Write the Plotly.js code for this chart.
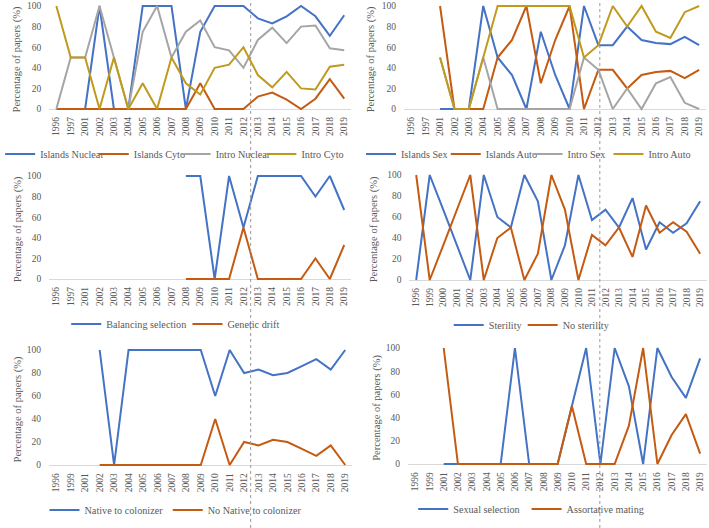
<!DOCTYPE html>
<html><head><meta charset="utf-8">
<script src="https://cdn.plot.ly/plotly-3.0.1.min.js"></script>
<style>html,body{margin:0;padding:0;background:#fff}#chart{width:709px;height:528px}</style>
</head><body><div id="chart"></div>
<script>
// ---------- categories ----------
const yearsA = ['1996','1997','2001','2002','2003','2004','2005','2006','2007','2008','2009','2010','2011','2012','2013','2014','2015','2016','2017','2018','2019'];
const yearsB = ['1996','1999','2000','2001','2002','2003','2004','2005','2006','2007','2008','2009','2010','2011','2012','2013','2014','2015','2016','2017','2018','2019'];
const yearsC = ['1996','1999','2001','2002','2003','2004','2005','2006','2007','2008','2009','2010','2011','2012','2013','2014','2015','2016','2017','2018','2019'];

// ---------- panel 1 ----------
const islandsNuclear = [null,null,0,100,0,0,100,100,100,0,75,100,100,100,88,83,90,100,90,71,91];
const islandsCyto    = [0,0,0,0,0,0,0,0,0,0,25,0,0,0,12,16,9,0,10,29,10];
const introNuclear   = [0,50,50,100,50,0,75,100,50,75,86,60,57,40,67,79,64,80,81,59,57];
const introCyto      = [100,50,50,0,50,0,25,0,50,25,14,40,43,60,33,21,36,20,19,41,43];
// ---------- panel 2 ----------
const islandsSex  = [null,null,0,0,0,100,50,33,0,75,33,0,100,62,62,80,67,64,63,70,62];
const islandsAuto = [null,null,100,0,0,0,50,67,100,25,67,100,0,38,38,20,33,36,37,30,38];
const introSex    = [null,null,50,0,0,50,0,0,0,0,0,0,50,38,0,20,0,25,31,6,0];
const introAuto   = [null,null,50,0,0,50,100,100,100,100,100,100,50,62,100,80,100,75,69,94,100];
// ---------- panel 3 ----------
const balancingSel = [null,null,null,null,null,null,null,null,null,100,100,0,100,50,100,100,100,100,80,100,67];
const geneticDrift = [null,null,null,null,null,null,null,null,null,0,0,0,0,50,0,0,0,0,20,0,33];
// ---------- panel 4 ----------
const sterility   = [0,100,67,33,0,100,60,50,100,75,0,33,100,57,67,50,78,29,55,45,54,75];
const noSterility = [100,0,33,67,100,0,40,50,0,25,100,67,0,43,33,50,22,71,45,55,46,25];
// ---------- panel 5 ----------
const nativeCol   = [null,null,null,100,0,100,100,100,100,100,100,60,100,80,83,78,80,86,92,83,100];
const noNativeCol = [null,null,null,0,0,0,0,0,0,0,0,40,0,20,17,22,20,14,8,17,0];
// ---------- panel 6 ----------
const sexualSel  = [null,null,0,0,0,0,0,100,0,0,0,50,100,0,100,67,0,100,75,57,91];
const assortMate = [null,null,100,0,0,0,0,0,0,0,0,50,0,0,0,33,100,0,25,43,9];

const yTicks = [0,20,40,60,80,100];
const yTitle = 'Percentage of papers (%)';

const panels = [
  {cats: yearsA, names:['Islands Nuclear','Islands Cyto','Intro Nuclear','Intro Cyto'], vals:[islandsNuclear,islandsCyto,introNuclear,introCyto]},
  {cats: yearsA, names:['Islands Sex','Islands Auto','Intro Sex','Intro Auto'], vals:[islandsSex,islandsAuto,introSex,introAuto]},
  {cats: yearsA, names:['Balancing selection','Genetic drift'], vals:[balancingSel,geneticDrift]},
  {cats: yearsB, names:['Sterility','No sterility'], vals:[sterility,noSterility]},
  {cats: yearsC, names:['Native to colonizer','No Native to colonizer'], vals:[nativeCol,noNativeCol]},
  {cats: yearsC, names:['Sexual selection','Assortative mating'], vals:[sexualSel,assortMate]}
];

// ---------- layout geometry (pixels) ----------
const W = 709, H = 528;
const colors = ['#4472C4','#C55A11','#A5A5A5','#C09A1C'];
const geo = [
  {xa:47,  xb:339, y0:109, y100:6,   legY:154, legX:[35,130,213,300], titX:8},
  {xa:407, xb:699, y0:109, y100:6,   legY:154, legX:[401,487,570,652], titX:367},
  {xa:47,  xb:339, y0:279, y100:176, legY:324, legX:[102,225], titX:9},
  {xa:412, xb:700, y0:280, y100:175, legY:325, legX:[490,565], titX:370},
  {xa:47,  xb:340, y0:465, y100:350, legY:510, legX:[80,205], titX:8},
  {xa:411, xb:700, y0:464, y100:348, legY:509, legX:[454,569], titX:372}
];
const FONT = 'Liberation Serif, Times New Roman, serif';
const GREY = '#595959';

const layout = {
  width: W, height: H, margin:{l:0,r:0,t:0,b:0},
  paper_bgcolor:'#ffffff', plot_bgcolor:'rgba(0,0,0,0)',
  font:{family:FONT, color:GREY, size:9},
  shapes:[], annotations:[]
};
const traces = [];
let li = 1;
panels.forEach((p,i) => {
  const g = geo[i];
  const n = p.cats.length;
  const sp = (g.xb - g.xa)/(n-1);
  const ppu = (g.y0 - g.y100)/100;
  const ylo = -2, yhi = 102;
  const botPx = g.y0 - ylo*ppu, topPx = g.y100 - (yhi-100)*ppu;
  const sfx = i === 0 ? '' : String(i+1);
  layout['xaxis'+sfx] = {
    domain:[(g.xa - sp/2)/W, (g.xb + sp/2)/W], anchor:'y'+sfx,
    type:'category', categoryorder:'array', categoryarray:p.cats, range:[-0.5, n-0.5],
    tickangle:-90, showgrid:false, zeroline:false, showline:false, ticks:'',
    tickfont:{size:9.5, color:GREY, family:FONT}, ticklabelstandoff:3, fixedrange:true, automargin:false
  };
  layout['yaxis'+sfx] = {
    domain:[1 - botPx/H, 1 - topPx/H], anchor:'x'+sfx, range:[ylo,yhi],
    tickvals:yTicks, showgrid:false, zeroline:true, zerolinecolor:'#D9D9D9', zerolinewidth:1,
    showline:false, ticks:'', tickfont:{size:9.5, color:GREY, family:FONT}, ticklabelstandoff:7,
    fixedrange:true, automargin:false
  };
  // y-axis title placed as rotated text beside the axis
  layout.annotations.push({
    text:yTitle, textangle:-90, showarrow:false, xref:'paper', yref:'paper',
    x:g.titX/W, y:1 - ((g.y0 + g.y100)/2 + 2)/H, xanchor:'center', yanchor:'middle',
    font:{size:10.5, color:GREY, family:FONT}
  });
  p.names.forEach((nm,k) => {
    const lk = li === 1 ? 'legend' : 'legend'+li;
    traces.push({
      type:'scatter', mode:'lines', x:p.cats, y:p.vals[k], name:nm,
      xaxis:'x'+sfx, yaxis:'y'+sfx, connectgaps:false, hoverinfo:'skip',
      line:{color:colors[k], width:2}, legend:lk, showlegend:true
    });
    layout[lk] = {
      x:(g.legX[k]-45)/W, xanchor:'left', y:1 - g.legY/H, yanchor:'middle',
      orientation:'h', bgcolor:'rgba(0,0,0,0)', borderwidth:0, itemwidth:30,
      font:{size:10.2, color:GREY, family:FONT}
    };
    li++;
  });
});
// vertical dashed reference lines
layout.shapes.push({type:'line', xref:'x', yref:'paper', x0:13.5, x1:13.5, y0:0, y1:1, line:{color:'#9A9A9A', width:1, dash:'3px,3px'}});
layout.shapes.push({type:'line', xref:'x2', yref:'paper', x0:13.1, x1:13.1, y0:0, y1:1, line:{color:'#9A9A9A', width:1, dash:'3px,3px'}});

Plotly.newPlot('chart', traces, layout, {displayModeBar:false, staticPlot:true});
</script>
</body></html>
